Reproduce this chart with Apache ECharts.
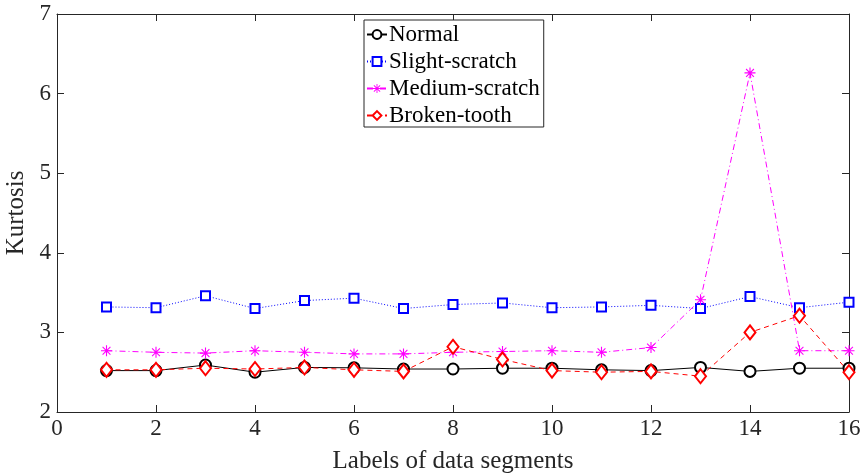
<!DOCTYPE html>
<html>
<head>
<meta charset="utf-8">
<script src="https://cdn.jsdelivr.net/npm/echarts@6/dist/echarts.min.js"></script>
<style>
  html, body { margin: 0; padding: 0; background: #fff; }
  #chart { width: 866px; height: 476px; }
</style>
</head>
<body>
<div id="chart"></div>
<script>
// segment labels 1..16
const segments = [1, 2, 3, 4, 5, 6, 7, 8, 9, 10, 11, 12, 13, 14, 15, 16];
const normal = [2.52, 2.52, 2.59, 2.50, 2.56, 2.555, 2.54, 2.54, 2.55, 2.55, 2.53, 2.52, 2.56, 2.51, 2.55, 2.55];
const slightScratch = [3.32, 3.31, 3.46, 3.30, 3.40, 3.43, 3.30, 3.35, 3.37, 3.31, 3.32, 3.34, 3.30, 3.45, 3.31, 3.38];
const mediumScratch = [2.77, 2.75, 2.74, 2.77, 2.75, 2.73, 2.73, 2.75, 2.76, 2.77, 2.75, 2.81, 3.41, 6.26, 2.77, 2.77];
const brokenTooth = [2.53, 2.53, 2.55, 2.54, 2.56, 2.53, 2.51, 2.82, 2.66, 2.52, 2.50, 2.51, 2.45, 3.00, 3.21, 2.50];

const font = '"Liberation Serif", "Times New Roman", serif';
const textColor = '#262626';

// asterisk marker made of four thin bars
const asterisk = 'path://M-5,-0.5L5,-0.5L5,0.5L-5,0.5Z' +
  'M-0.5,-5L0.5,-5L0.5,5L-0.5,5Z' +
  'M-3.9,-3.2L-3.2,-3.9L3.9,3.2L3.2,3.9Z' +
  'M3.2,-3.9L3.9,-3.2L-3.2,3.9L-3.9,3.2Z';

const pair = (vals) => vals.map((v, i) => [segments[i], v]);

const chart = echarts.init(document.getElementById('chart'));

function frameAxis(extra) {
  return Object.assign({
    type: 'value',
    axisLine: { onZero: false, lineStyle: { color: '#262626', width: 1 } },
    axisTick: { inside: true, length: 7, lineStyle: { color: '#262626', width: 1 } },
    axisLabel: { show: false },
    splitLine: { show: false }
  }, extra);
}

chart.setOption({
  animation: false,
  grid: { left: 57, right: 17, top: 14, bottom: 64, outerBoundsMode: 'none', containLabel: false },
  legend: {
    orient: 'vertical',
    left: 364,
    top: 20,
    width: 178,
    padding: [3, 4, 0, 2],
    itemGap: 4,
    itemWidth: 20,
    itemHeight: 11,
    backgroundColor: '#fff',
    borderColor: '#262626',
    borderWidth: 1,
    textStyle: { fontFamily: font, fontSize: 23, lineHeight: 23, color: '#000', padding: [0, 0, 0, -3] },
    data: ['Normal', 'Slight-scratch', 'Medium-scratch', 'Broken-tooth']
  },
  xAxis: [
    frameAxis({
      min: 0, max: 16, interval: 2, position: 'bottom',
      name: 'Labels of data segments', nameLocation: 'middle', nameGap: 37,
      nameTextStyle: { fontFamily: font, fontSize: 25, color: textColor },
      axisLabel: { fontFamily: font, fontSize: 23, color: textColor, margin: 5 }
    }),
    frameAxis({ min: 0, max: 16, interval: 2, position: 'top' })
  ],
  yAxis: [
    frameAxis({
      min: 2, max: 7, interval: 1, position: 'left',
      name: 'Kurtosis', nameLocation: 'middle', nameGap: 22,
      nameTextStyle: { fontFamily: font, fontSize: 25, color: textColor },
      axisLabel: { fontFamily: font, fontSize: 23, color: textColor, margin: 6 }
    }),
    frameAxis({ min: 2, max: 7, interval: 1, position: 'right' })
  ],
  series: [
    {
      name: 'Normal', type: 'line', data: pair(normal),
      symbol: 'emptyCircle', symbolSize: 11,
      itemStyle: { color: '#000', borderWidth: 1 },
      lineStyle: { color: '#000', width: 1, type: 'solid' }
    },
    {
      name: 'Slight-scratch', type: 'line', data: pair(slightScratch),
      symbol: 'emptyRect', symbolSize: 9,
      itemStyle: { color: '#0000ff', borderWidth: 1.2 },
      lineStyle: { color: '#0000ff', width: 1, type: [1, 2] }
    },
    {
      name: 'Medium-scratch', type: 'line', data: pair(mediumScratch),
      symbol: asterisk, symbolSize: 11,
      itemStyle: { color: '#ff00ff' },
      lineStyle: { color: '#ff00ff', width: 1, type: [6, 3, 1, 3] }
    },
    {
      name: 'Broken-tooth', type: 'line', data: pair(brokenTooth),
      symbol: 'emptyDiamond', symbolSize: [11, 14],
      itemStyle: { color: '#ff0000', borderWidth: 1.2 },
      lineStyle: { color: '#ff0000', width: 1, type: [5, 4] }
    }
  ]
});
</script>
</body>
</html>
